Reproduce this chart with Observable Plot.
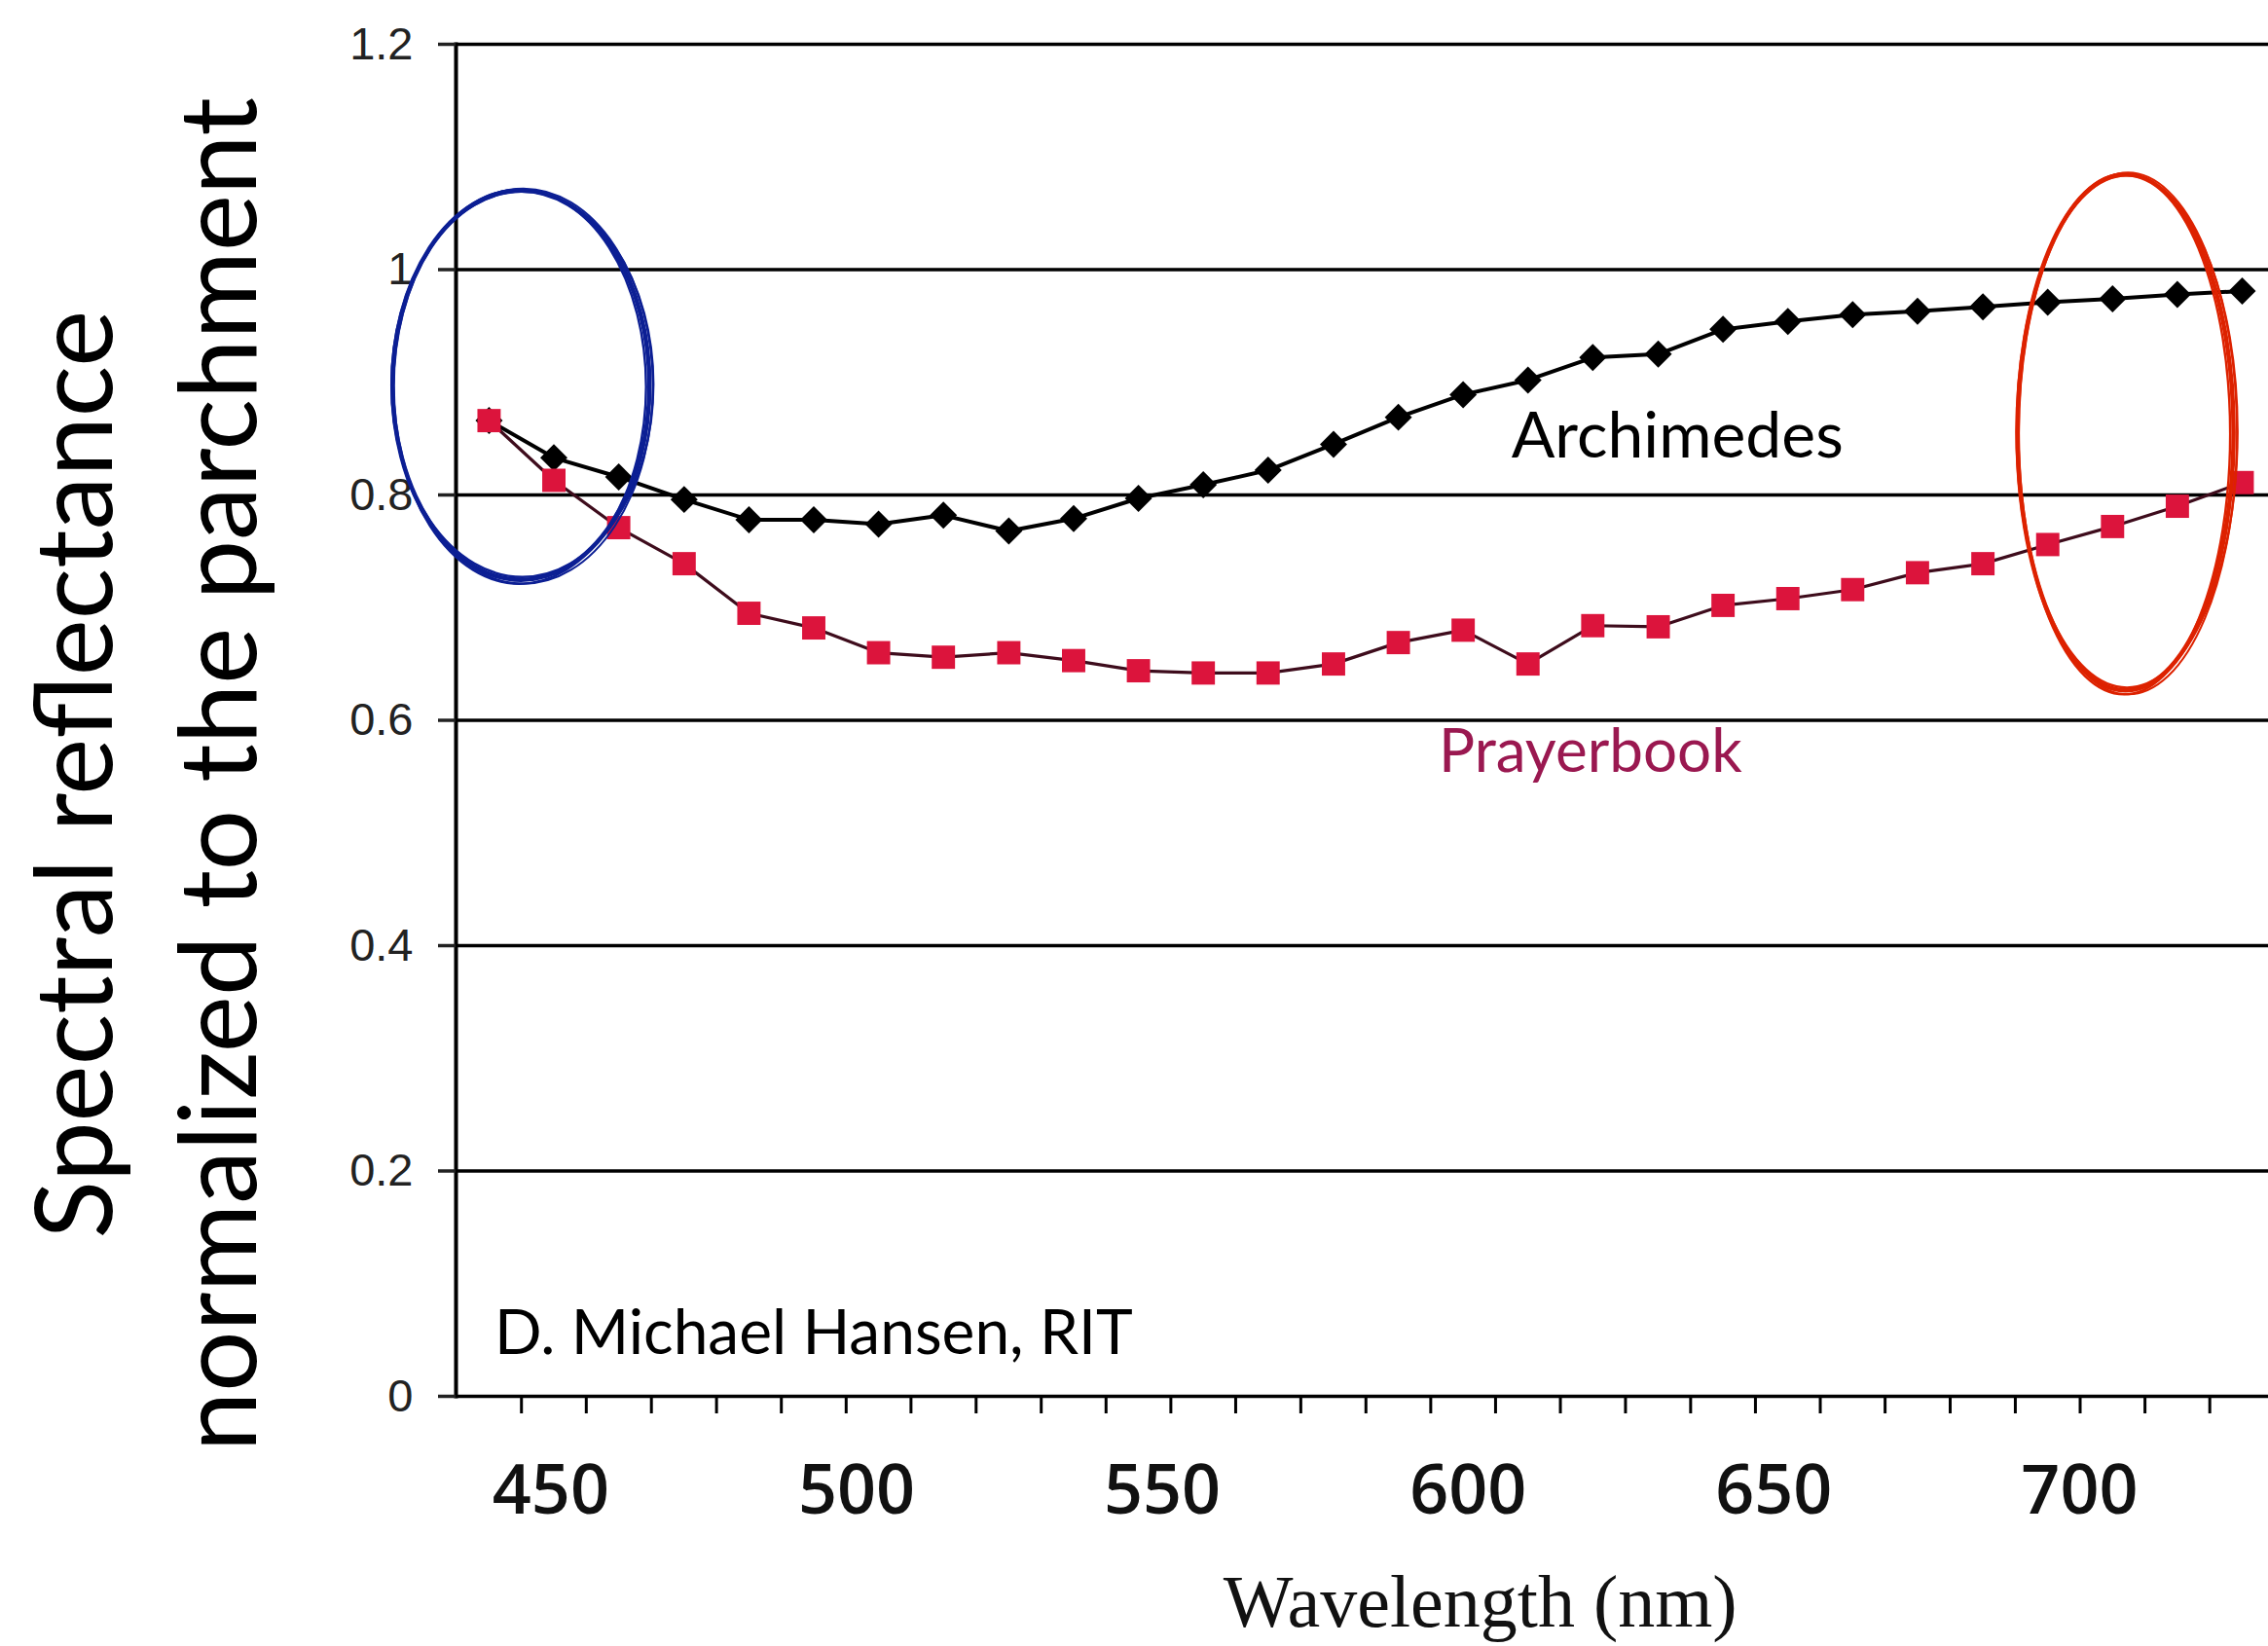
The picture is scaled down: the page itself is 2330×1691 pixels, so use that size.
<!DOCTYPE html>
<html>
<head>
<meta charset="utf-8">
<script src="https://cdn.jsdelivr.net/npm/d3@7"></script>
<script src="https://cdn.jsdelivr.net/npm/@observablehq/plot@0.6"></script>
<style>
  html, body { margin: 0; padding: 0; background: #fff; }
  #chart svg { display: block; }
</style>
</head>
<body>
<div id="chart"></div>
<script>
// ---- data ----
const wavelength = [439.9, 450.5, 461.1, 471.8, 482.4, 493.0, 503.6, 514.2, 524.9, 535.5,
                    546.1, 556.7, 567.3, 578.0, 588.6, 599.2, 609.8, 620.4, 631.1, 641.7,
                    652.3, 662.9, 673.5, 684.2, 694.8, 705.4, 716.0, 726.6];
const archimedes = [0.866, 0.833, 0.816, 0.796, 0.778, 0.778, 0.774, 0.782, 0.768, 0.779,
                    0.797, 0.809, 0.822, 0.845, 0.869, 0.889, 0.902, 0.922, 0.925, 0.947,
                    0.954, 0.960, 0.963, 0.967, 0.971, 0.974, 0.978, 0.981];
const prayerbook = [0.866, 0.813, 0.771, 0.739, 0.695, 0.682, 0.660, 0.656, 0.660, 0.653,
                    0.644, 0.642, 0.642, 0.650, 0.669, 0.680, 0.650, 0.684, 0.683, 0.702,
                    0.708, 0.716, 0.731, 0.739, 0.756, 0.772, 0.790, 0.811];
const seriesNames = ["Archimedes", "Prayerbook"];
const yTicks = [0, 0.2, 0.4, 0.6, 0.8, 1.0, 1.2];
const xTickLabels = [450, 500, 550, 600, 650, 700];
const yTitle = ["Spectral reflectance", "normalized to the parchment"];
const xTitle = "Wavelength (nm)";
const credit = "D. Michael Hansen, RIT";

// ---- tables built from the arrays ----
const archRows = wavelength.map((w, i) => ({wl: w, v: archimedes[i]}));
const prayRows = wavelength.map((w, i) => ({wl: w, v: prayerbook[i]}));
const midTicks = d3.pairs(wavelength).map(([a, b]) => (a + b) / 2);

// annotation ellipses (hand-drawn highlight rings), centres in data units
const rings = [
  {wl: 445.2, v: 0.897, rx: 132, ry: 200, color: "#0c1f94"},
  {wl: 707.6, v: 0.855, rx: 111, ry: 265, color: "#dd2200"}
];

function ringMark(index, scales) {
  const ns = "http://www.w3.org/2000/svg";
  const g = document.createElementNS(ns, "g");
  const jitter = [[0, 0, 0, 0, 4.5], [1.5, -1, 2.5, -2, 2.4], [-1.5, 1.5, -2, 2.5, 2.4], [2.5, 1, 1, 3, 2]];
  for (const r of rings) {
    const cx = scales.x(r.wl), cy = scales.y(r.v);
    for (const [dx, dy, drx, dry, sw] of jitter) {
      const e = document.createElementNS(ns, "ellipse");
      e.setAttribute("cx", cx + dx);
      e.setAttribute("cy", cy + dy);
      e.setAttribute("rx", r.rx + drx);
      e.setAttribute("ry", r.ry + dry);
      e.setAttribute("fill", "none");
      e.setAttribute("stroke", r.color);
      e.setAttribute("stroke-width", sw);
      g.appendChild(e);
    }
  }
  return g;
}

const plot = Plot.plot({
  width: 2330,
  height: 1691,
  marginLeft: 468,
  marginRight: 0,
  marginTop: 45,
  marginBottom: 257,
  style: {background: "#fff", fontFamily: "Lato, sans-serif", color: "#000"},
  x: {domain: [434.5, 730.9], label: null},
  y: {domain: [0, 1.2], label: null},
  marks: [
    Plot.ruleY(yTicks, {stroke: "#000", strokeWidth: 3.5}),
    Plot.frame({anchor: "left", stroke: "#000", strokeWidth: 4}),
    Plot.axisY({ticks: yTicks, tickSize: 18, tickPadding: 26, tickFormat: d3.format("~g"),
                fontSize: 47, fontFamily: "Liberation Sans, Arial, sans-serif",
                color: "#222", strokeWidth: 3.5, label: null}),
    Plot.axisX({ticks: midTicks, tickSize: 18, tickFormat: () => "", strokeWidth: 3, label: null}),
    Plot.axisX({ticks: xTickLabels, tickSize: 0, tickPadding: 71, fontSize: 70,
                fontFamily: "Open Sans, sans-serif", fontWeight: 600, color: "#111", label: null}),
    // Archimedes
    Plot.line(archRows, {x: "wl", y: "v", stroke: "#000", strokeWidth: 4}),
    Plot.dot(archRows, {x: "wl", y: "v", symbol: "diamond2", r: 12.6, fill: "#000", stroke: "none"}),
    // Prayerbook
    Plot.line(prayRows, {x: "wl", y: "v", stroke: "#3e0c1c", strokeWidth: 3.2}),
    Plot.dot(prayRows, {x: "wl", y: "v", symbol: "square", r: 13.5, fill: "#dc143c", stroke: "none"}),
    // series labels
    Plot.text([seriesNames[0]], {x: () => 607.1, y: () => 0.833, text: d => d, textAnchor: "start",
              lineAnchor: "bottom", fontSize: 66, fill: "#000"}),
    Plot.text([seriesNames[1]], {x: () => 595.2, y: () => 0.554, text: d => d, textAnchor: "start",
              lineAnchor: "bottom", fontSize: 62, fill: "#9a1850"}),
    Plot.text([credit], {x: () => 440.8, y: () => 0.038, text: d => d, textAnchor: "start",
              lineAnchor: "bottom", fontSize: 64, fill: "#000"}),
    // y-axis title (two lines)
    Plot.text([yTitle[0]], {frameAnchor: "left", y: () => 0.552, text: d => d, rotate: -90,
              textAnchor: "middle", lineAnchor: "bottom", dx: -354, fontSize: 110, fill: "#000"}),
    Plot.text([yTitle[1]], {frameAnchor: "left", y: () => 0.552, text: d => d, rotate: -90,
              textAnchor: "middle", lineAnchor: "bottom", dx: -206, fontSize: 110, fill: "#000"}),
    // x-axis title
    Plot.text([xTitle], {x: () => 602, frameAnchor: "bottom", text: d => d, textAnchor: "middle",
              lineAnchor: "bottom", dy: 236, fontSize: 76,
              fontFamily: "Liberation Serif, Times New Roman, serif", fill: "#111"}),
    ringMark
  ]
});
document.getElementById("chart").appendChild(plot);
</script>
</body>
</html>
